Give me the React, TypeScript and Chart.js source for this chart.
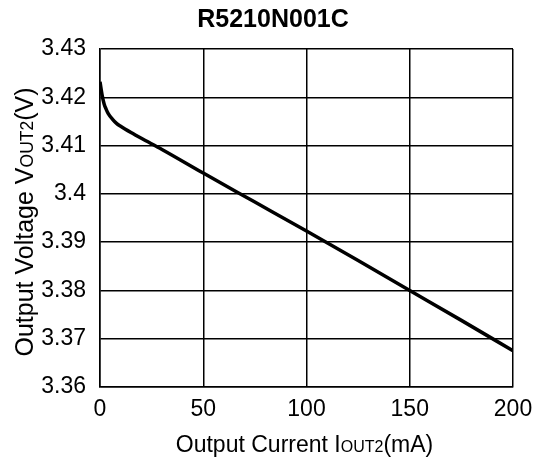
import { useEffect, useRef } from "react";
import { Chart, registerables } from "chart.js";

Chart.register(...registerables);

const currents = [0, 1, 2, 3, 4, 6, 8, 10, 15, 20, 30, 50, 75, 100, 125, 150, 175, 200];
const voltages = [3.4232, 3.4205, 3.4186, 3.4175, 3.4166, 3.4155, 3.4146, 3.414, 3.4127, 3.4115, 3.4092, 3.4043, 3.3983, 3.3923, 3.3862, 3.38, 3.3738, 3.3675];
const yTicks = [3.36, 3.37, 3.38, 3.39, 3.4, 3.41, 3.42, 3.43];
const xTicks = [0, 50, 100, 150, 200];
const titleText = "R5210N001C";
const xTitleParts = [["Output Current I", false], ["OUT2", true], ["(mA)", false]] as [string, boolean][];
const yTitleParts = [["Output Voltage V", false], ["OUT2", true], ["(V)", false]] as [string, boolean][];

const FONT = '"Liberation Sans", Arial, Helvetica, sans-serif';
const TICK = 23;

function drawParts(
  ctx: CanvasRenderingContext2D,
  parts: [string, boolean][],
  cx: number,
  cy: number,
  big: number,
  small: number
) {
  let total = 0;
  for (const [t, s] of parts) {
    ctx.font = `${s ? small : big}px ${FONT}`;
    total += ctx.measureText(t).width;
  }
  let x = cx - total / 2;
  ctx.textAlign = "left";
  ctx.textBaseline = "alphabetic";
  for (const [t, s] of parts) {
    ctx.font = `${s ? small : big}px ${FONT}`;
    ctx.fillText(t, x, cy);
    x += ctx.measureText(t).width;
  }
}

const titlesPlugin = {
  id: "customTitles",
  afterDraw(chart: any) {
    const ctx: CanvasRenderingContext2D = chart.ctx;
    const area = chart.chartArea;
    ctx.save();
    ctx.fillStyle = "#000";
    ctx.font = `bold 25px ${FONT}`;
    ctx.textAlign = "center";
    ctx.textBaseline = "alphabetic";
    ctx.fillText(titleText, chart.width / 2, 27);
    drawParts(ctx, xTitleParts, (area.left + area.right) / 2 - 2, 452, 23, 16);
    ctx.translate(33, (area.top + area.bottom) / 2 + 4);
    ctx.rotate(-Math.PI / 2);
    drawParts(ctx, yTitleParts, 0, 0, 25, 17.5);
    ctx.restore();
  },
};

export default function App() {
  const ref = useRef<HTMLCanvasElement>(null);
  useEffect(() => {
    if (!ref.current) return;
    const chart = new Chart(ref.current, {
      type: "line",
      data: {
        datasets: [
          {
            data: currents.map((c, i) => ({ x: c, y: voltages[i] })),
            borderColor: "#000",
            borderWidth: 3.5,
            pointRadius: 0,
            cubicInterpolationMode: "monotone",
            fill: false,
          },
        ],
      },
      options: {
        animation: false,
        responsive: false,
        maintainAspectRatio: false,
        layout: { padding: { left: 0, top: 49, right: 33, bottom: 0 } },
        plugins: { legend: { display: false }, title: { display: false }, tooltip: { enabled: false } },
        scales: {
          x: {
            type: "linear",
            min: 0,
            max: 200,
            afterBuildTicks: (s: any) => {
              s.ticks = xTicks.map((v) => ({ value: v }));
            },
            afterFit: (s: any) => {
              s.height = 76;
            },
            grid: { color: "#000", lineWidth: 1.5, drawTicks: false },
            border: { display: true, color: "#000", width: 1.5 },
            ticks: { color: "#000", padding: 9, font: { family: FONT, size: TICK }, maxRotation: 0 },
          },
          y: {
            type: "linear",
            min: 3.36,
            max: 3.43,
            afterBuildTicks: (s: any) => {
              s.ticks = yTicks.map((v) => ({ value: v }));
            },
            afterFit: (s: any) => {
              s.width = 100;
            },
            grid: { color: "#000", lineWidth: 1.5, drawTicks: false },
            border: { display: true, color: "#000", width: 1.5 },
            ticks: {
              color: "#000",
              padding: 14,
              font: { family: FONT, size: TICK },
              callback: (v: any) => String(Number(Number(v).toFixed(2))),
            },
          },
        },
      },
      plugins: [titlesPlugin],
    } as any);
    return () => chart.destroy();
  }, []);
  return (
    <div style={{ position: "fixed", left: 0, top: 0, width: 546, height: 463, background: "#fff" }}>
      <canvas ref={ref} width={546} height={463} style={{ width: 546, height: 463 }} />
    </div>
  );
}
